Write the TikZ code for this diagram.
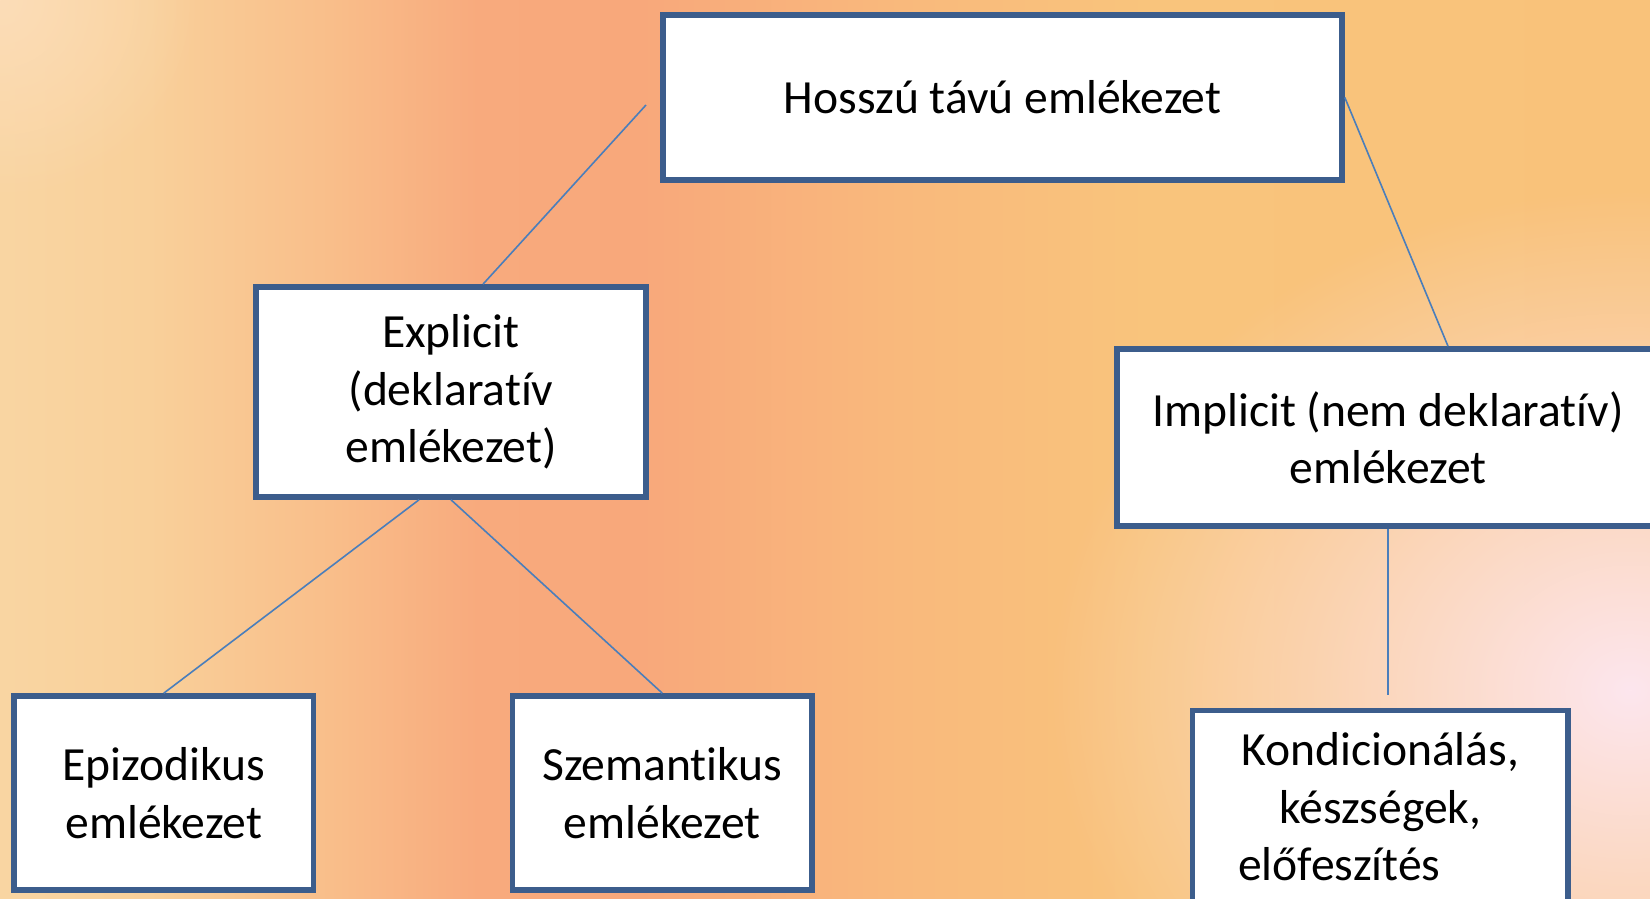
\documentclass[tikz,border=0pt]{standalone}
\usepackage{fontspec}
\setmainfont{Carlito}[Ligatures={NoCommon,NoContextual}]
\usetikzlibrary{fadings}
\definecolor{boxline}{HTML}{3C5D8C}
\definecolor{linkblue}{HTML}{4A7EBB}
\definecolor{bga}{HTML}{F9D5A2}
\definecolor{bgb}{HTML}{F9D09A}
\definecolor{bgc}{HTML}{F9BE8A}
\definecolor{bgd}{HTML}{F8AA7D}
\definecolor{bge}{HTML}{F8A87B}
\definecolor{bgf}{HTML}{F9B97C}
\definecolor{bgg}{HTML}{F9C47C}
\definecolor{bgh}{HTML}{F9C27A}
\definecolor{glowpink}{HTML}{FDE6EE}
\definecolor{glowcream}{HTML}{FCDDB8}
\pgfdeclarehorizontalshading{bgshade}{100bp}{color(0bp)=(bga); color(25bp)=(bga); color(29.5bp)=(bgb); color(35bp)=(bgc); color(39.5bp)=(bgd); color(44.4bp)=(bge); color(52.3bp)=(bgf); color(59.8bp)=(bgg); color(75bp)=(bgh); color(100bp)=(bgh)}
\tikzfading[name=glowfade, inner color=transparent!0, outer color=transparent!100]
\begin{document}
\begin{tikzpicture}[x=0.5pt,y=-0.5pt,
  box/.style={draw=boxline, line width=2.8pt, fill=white, rectangle, inner sep=0pt,
    align=center, text=black, font=\fontsize{23.8pt}{28.7pt}\selectfont},
  link/.style={draw=linkblue, line width=0.8pt}]
\useasboundingbox (0,0) rectangle (1650,899);
\clip (0,0) rectangle (1650,899);
\shade[shading=bgshade] (0,0) rectangle (1650,899);
\fill[glowpink, path fading=glowfade] (1630,690) ellipse (580 and 500);
\fill[glowcream, path fading=glowfade] (0,0) circle (200);

\node[box, minimum width=339.5pt, minimum height=82.5pt] (top) at (1002.5,97.5) {Hosszú távú emlékezet};
\node[box, minimum width=195pt, minimum height=105pt] (expl) at (451,392) {Explicit\\(deklaratív\\emlékezet)};
\node[box, minimum width=271pt, minimum height=88.5pt] (impl) at (1388,437.5) {Implicit (nem deklaratív)\\emlékezet};
\node[box, minimum width=149.75pt, minimum height=97pt] (epi) at (163.75,793) {Epizodikus\\emlékezet};
\node[box, minimum width=149.75pt, minimum height=97pt] (sem) at (662.3,793) {Szemantikus\\emlékezet};
\node[box, minimum width=187.75pt, minimum height=96.5pt] (kond) at (1380.25,807) {Kondicionálás,\\készségek,\\előfeszítés\hspace*{41pt}};

\coordinate (c1) at (646,105);
\coordinate (c5) at (1388,695);
\draw[link] (c1) -- ([xshift=16pt]expl.north);
\draw[link] (top.east) -- ([xshift=30pt]impl.north);
\draw[link] ([xshift=-16pt]expl.south) -- (epi.north);
\draw[link] (expl.south) -- (sem.north);
\draw[link] (impl.south) -- (c5);
\end{tikzpicture}
\end{document}
